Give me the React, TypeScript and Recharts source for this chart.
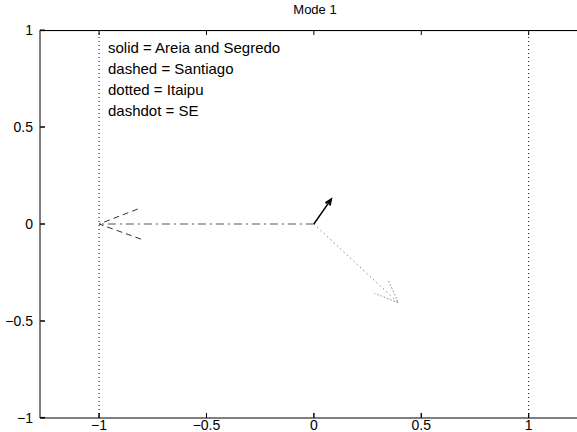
import { LineChart, Line, XAxis, YAxis, ReferenceLine } from "recharts";

// vector shafts and arrow heads (x, y in data units)
const seShaft = [{ x: 0, y: 0 }, { x: -1, y: 0 }];
const seHead = [{ x: -0.82, y: 0.077 }, { x: -1, y: 0 }, { x: -0.8, y: -0.08 }];
const areiaShaft = [{ x: 0, y: 0 }, { x: 0.08, y: 0.127 }];
const areiaHead = [{ x: 0.054, y: 0.108 }, { x: 0.08, y: 0.127 }, { x: 0.074, y: 0.095 }];
const itaipuShaft = [{ x: 0, y: 0 }, { x: 0.394, y: -0.407 }];
const itaipuHead = [{ x: 0.348, y: -0.294 }, { x: 0.394, y: -0.407 }, { x: 0.283, y: -0.357 }];

const xTicks = [-1, -0.5, 0, 0.5, 1];
const yTicks = [-1, -0.5, 0, 0.5, 1];
const unitBox = [-1, 1];
const legendLines = [
  "solid = Areia and Segredo",
  "dashed = Santiago",
  "dotted = Itaipu",
  "dashdot = SE",
];

const X_DOMAIN: [number, number] = [-1.275, 1.225];
const Y_DOMAIN: [number, number] = [-1, 1];
const TICK_X = 0.023; // 5px in x units
const TICK_Y = 0.026; // 5px in y units
const EDGE = 0.997; // frame drawn just inside the domain edge
const LEFT = X_DOMAIN[0] + 0.002;

const FONT = "'Liberation Sans', Arial, Helvetica, sans-serif";
const fmt = (v: number) => (v < 0 ? "\u2212" + String(-v) : String(v));

const topBorder = [{ x: LEFT, y: EDGE }, { x: X_DOMAIN[1], y: EDGE }];
const clampY = (t: number) => Math.max(-EDGE, Math.min(EDGE, t));
const tickMarks = [
  ...xTicks.map((t) => [{ x: t, y: -EDGE }, { x: t, y: -1 + TICK_Y }]),
  ...xTicks.map((t) => [{ x: t, y: EDGE }, { x: t, y: 1 - TICK_Y }]),
  ...yTicks.map((t) => [{ x: LEFT, y: clampY(t) }, { x: X_DOMAIN[0] + TICK_X, y: clampY(t) }]),
];

function BottomTick(props: any) {
  const { x, y, payload } = props;
  return (
    <g>
      <line x1={x} y1={y - 12} x2={x} y2={y - 17} stroke="#000" />
      <text x={x} y={y} textAnchor="middle" fontSize={14} fontFamily={FONT} fill="#000">
        {fmt(payload.value)}
      </text>
    </g>
  );
}

function LeftTick(props: any) {
  const { x, y, payload } = props;
  return (
    <g>
      <line x1={x + 7} y1={y} x2={x + 12} y2={y} stroke="#000" />
      <text x={x} y={y + 5} textAnchor="end" fontSize={14} fontFamily={FONT} fill="#000">
        {fmt(payload.value)}
      </text>
    </g>
  );
}

export default function App() {
  return (
    <div style={{ position: "absolute", left: 0, top: 0, width: 577, height: 432, background: "#fff" }}>
      <LineChart width={577} height={432} margin={{ top: 30, right: 0, bottom: 0, left: 0 }}>
        <XAxis
          dataKey="x"
          type="number"
          domain={X_DOMAIN}
          ticks={xTicks}
          tickSize={0}
          tickMargin={12}
          height={14}
          axisLine={{ stroke: "#000" }}
          tick={(p: any) => <BottomTick {...p} />}
        />
        <YAxis
          dataKey="y"
          type="number"
          domain={Y_DOMAIN}
          ticks={yTicks}
          tickSize={0}
          tickMargin={7}
          width={40}
          axisLine={{ stroke: "#000" }}
          tick={(p: any) => <LeftTick {...p} />}
        />
        {unitBox.map((v) => (
          <ReferenceLine key={v} x={v} stroke="#000" strokeDasharray="1 3" />
        ))}
        <Line data={topBorder} dataKey="y" stroke="#000" dot={false} isAnimationActive={false} />
        {tickMarks.map((seg, i) => (
          <Line key={"tk" + i} data={seg} dataKey="y" stroke="#000" dot={false} isAnimationActive={false} />
        ))}
        <Line data={seShaft} dataKey="y" stroke="#555" strokeDasharray="8 4 2 4" dot={false} isAnimationActive={false} />
        <Line data={seHead} dataKey="y" stroke="#333" strokeDasharray="6 4" dot={false} isAnimationActive={false} />
        <Line data={itaipuShaft} dataKey="y" stroke="#888" strokeDasharray="1.5 3" dot={false} isAnimationActive={false} />
        <Line data={itaipuHead} dataKey="y" stroke="#888" strokeDasharray="1.5 2" dot={false} isAnimationActive={false} />
        <Line data={areiaShaft} dataKey="y" stroke="#000" strokeWidth={1.5} dot={false} isAnimationActive={false} />
        <Line data={areiaHead} dataKey="y" stroke="#000" strokeWidth={2} dot={false} isAnimationActive={false} />
      </LineChart>
      {/* top frame edge of the axes box */}
      <div
        style={{
          position: "absolute",
          left: 40,
          top: 30,
          width: 537,
          height: 0,
          borderTop: "1px solid #000",
        }}
      />
      <div
        style={{
          position: "absolute",
          left: 0,
          top: 2,
          width: 630,
          textAlign: "center",
          fontFamily: FONT,
          fontSize: 13,
          lineHeight: "16px",
        }}
      >
        Mode 1
      </div>
      <div
        style={{
          position: "absolute",
          left: 108,
          top: 37,
          fontFamily: FONT,
          fontSize: 15,
          lineHeight: "21px",
          whiteSpace: "nowrap",
        }}
      >
        {legendLines.map((t) => (
          <div key={t}>{t}</div>
        ))}
      </div>
    </div>
  );
}
